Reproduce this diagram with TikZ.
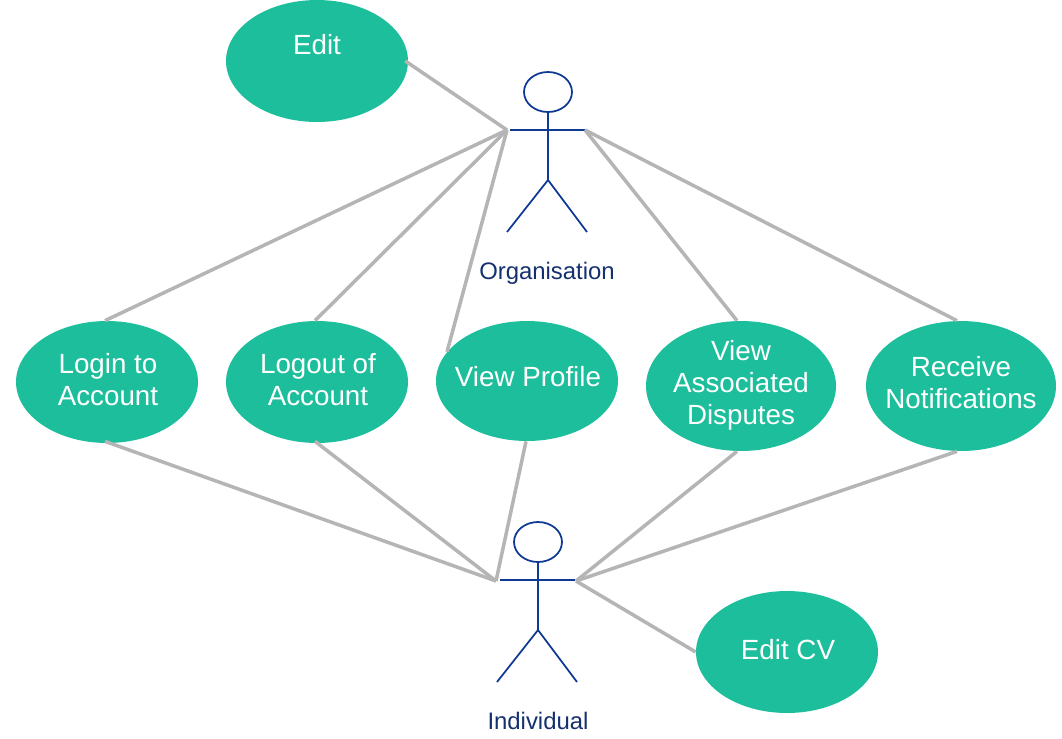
\documentclass[tikz,border=0pt]{standalone}
\usepackage{fontspec}
\setmainfont{Liberation Sans}
\usetikzlibrary{shapes.geometric}
\definecolor{usecasegreen}{HTML}{1CBE9C}
\definecolor{actorblue}{HTML}{0F3A94}
\definecolor{actortext}{HTML}{14306E}
\definecolor{linkgrey}{HTML}{B5B5B5}
\tikzset{
  usecase/.style={ellipse,fill=usecasegreen,inner sep=0pt,minimum width=3.64cm,minimum height=2.44cm},
  usecasetext/.style={text=white,inner sep=0pt,align=center,font=\fontsize{15.8}{18.2}\selectfont},
  actorline/.style={draw=actorblue,line width=1pt},
  actorname/.style={text=actortext,font=\fontsize{13.6}{16}\selectfont},
  link/.style={draw=linkgrey,line width=2pt}
}
\begin{document}
\begin{tikzpicture}[x=0.02cm,y=-0.02cm]
\useasboundingbox (0,0) rectangle (1062,738);

% use cases
\node[usecase] (edit) at (317,61) {};
\node[usecasetext] (edittext) at (317,45) {Edit};
\node[usecase] (login) at (107,382) {};
\node[usecasetext] (logintext) at (108,380) {Login to\\Account};
\node[usecase] (logout) at (317,382) {};
\node[usecasetext] (logouttext) at (318,380) {Logout of\\Account};
\node[usecase,minimum height=2.40cm] (profile) at (527,381) {};
\node[usecasetext] (profiletext) at (528,377) {View Profile};
\node[usecase,minimum width=3.80cm,minimum height=2.60cm] (disputes) at (741,386) {};
\node[usecasetext] (disputestext) at (741,385.5) {View\\Associated\\Disputes};
\node[usecase,minimum width=3.80cm,minimum height=2.60cm] (notify) at (961,386) {};
\node[usecasetext] (notifytext) at (961,383) {Receive\\Notifications};
\node[usecase] (editcv) at (787,652) {};
\node[usecasetext] (editcvtext) at (788,650) {Edit CV};

% organisation
\node[ellipse,actorline,minimum width=0.96cm,minimum height=0.80cm,inner sep=0pt] (orghead) at (548,92) {};
\coordinate (orgarml) at (510,130);
\coordinate (orgarmr) at (585,130);
\coordinate (orghip) at (548,180);
\coordinate (orgfootl) at (507,232);
\coordinate (orgfootr) at (587,232);
\draw[actorline] (orghead.south) -- (orghip);
\draw[actorline] (orgarml) -- (orgarmr);
\draw[actorline] (orgfootl) -- (orghip) -- (orgfootr);
\node[actorname] (orgname) at (547,273) {Organisation};

% individual
\node[ellipse,actorline,minimum width=0.96cm,minimum height=0.80cm,inner sep=0pt] (indhead) at (538,542) {};
\coordinate (indarml) at (500,580);
\coordinate (indarmr) at (575,580);
\coordinate (indhip) at (538,630);
\coordinate (indfootl) at (497,682);
\coordinate (indfootr) at (577,682);
\draw[actorline] (indhead.south) -- (indhip);
\draw[actorline] (indarml) -- (indarmr);
\draw[actorline] (indfootl) -- (indhip) -- (indfootr);
\node[actorname] (indname) at (538,721) {Individual};

% links
\coordinate (orgl) at (507,130);
\coordinate (orgr) at (585,130);
\coordinate (indl) at (496,581);
\coordinate (indr) at (576,581);
\draw[link] ([xshift=-0.06cm]edit.east) -- (orgl);
\draw[link] ([xshift=-0.04cm]login.north) -- (orgl);
\draw[link] ([xshift=-0.04cm]logout.north) -- (orgl);
\draw[link] (profile.160) -- (orgl);
\draw[link] ([xshift=-0.08cm]disputes.north) -- (orgr);
\draw[link] ([xshift=-0.08cm]notify.north) -- (orgr);
\draw[link] ([xshift=-0.04cm,yshift=0.04cm]login.south) -- (indl);
\draw[link] ([xshift=-0.04cm,yshift=0.04cm]logout.south) -- (indl);
\draw[link] ([xshift=-0.02cm]profile.south) -- (indl);
\draw[link] ([xshift=-0.08cm]disputes.south) -- (indr);
\draw[link] ([xshift=-0.08cm]notify.south) -- (indr);
\draw[link] (editcv.west) -- (indr);
\end{tikzpicture}
\end{document}
